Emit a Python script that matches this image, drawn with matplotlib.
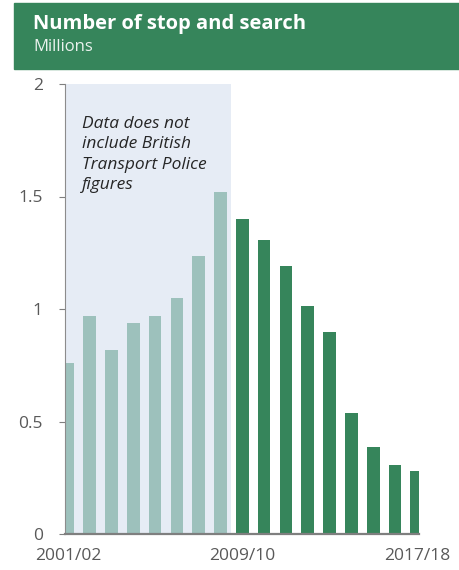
import matplotlib
matplotlib.use("Agg")
import matplotlib.pyplot as plt
from matplotlib.patches import Rectangle

# ---------------------------------------------------------
# DATA (millions of stop and searches)
# ---------------------------------------------------------
years = ["2001/02", "2002/03", "2003/04", "2004/05", "2005/06", "2006/07",
         "2007/08", "2008/09", "2009/10", "2010/11", "2011/12", "2012/13",
         "2013/14", "2014/15", "2015/16", "2016/17", "2017/18"]
values = [0.76, 0.97, 0.82, 0.94, 0.97, 1.05, 1.235, 1.52,
          1.40, 1.307, 1.19, 1.015, 0.90, 0.536, 0.385, 0.305, 0.28]
n_excl_btp = 8  # first years exclude British Transport Police
tick_years = ["2001/02", "2009/10", "2017/18"]
yticks = [0, 0.5, 1, 1.5, 2]
ytick_labels = ["0", "0.5", "1", "1.5", "2"]

light = "#9dc1bc"
dark = "#36855b"
shade = "#e6ecf5"
grey = "#595959"

plt.rcParams['font.family'] = ['Open Sans', 'DejaVu Sans']

W, H = 459, 570
fig = plt.figure(figsize=(W / 100, H / 100), dpi=100)

# header band
fig.patches.append(Rectangle((14 / W, 1 - 69 / H), 1 - 14 / W, 66 / H,
                             transform=fig.transFigure, color=dark, zorder=0))
fig.text(33 / W, 1 - 24 / H, "Number of stop and search", color="white",
         fontsize=14.5, fontweight="bold", va="center", ha="left")
fig.text(33 / W, 1 - 47 / H, "Millions", color="white", fontsize=12,
         va="center", ha="left", alpha=0.9)

ax = fig.add_axes([65 / W, 1 - 534 / H, (419 - 65) / W, (534 - 84) / H])

x = list(range(len(years)))
colors = [light if i < n_excl_btp else dark for i in x]
ax.bar(x, values, width=0.58, color=colors, zorder=2)

x_lo, x_hi = -0.13, len(years) - 1 + 0.1
ax.axvspan(x_lo, n_excl_btp - 0.5, color=shade, zorder=0, lw=0)
ax.set_xlim(x_lo, x_hi)
ax.set_ylim(0, 2)

ax.text(0.65, 1.86, "Data does not\ninclude British\nTransport Police\nfigures",
        style="italic", fontsize=12.5, color="#262626", va="top", ha="left",
        linespacing=1.38)

ax.set_yticks(yticks)
ax.set_yticklabels(ytick_labels)
ax.set_xticks([years.index(t) for t in tick_years])
ax.set_xticklabels(tick_years)
ax.tick_params(axis="y", length=4, color="#7f7f7f", labelsize=12.5,
               labelcolor=grey, pad=12)
ax.tick_params(axis="x", length=0, labelsize=12.5, labelcolor=grey, pad=10)

for s in ["top", "right"]:
    ax.spines[s].set_visible(False)
ax.spines["left"].set_color("#8c8c8c")
ax.spines["bottom"].set_color("#7f7f7f")
ax.spines["bottom"].set_linewidth(1.6)
ax.spines["bottom"].set_zorder(3)

fig.savefig("out.png", dpi=100)
